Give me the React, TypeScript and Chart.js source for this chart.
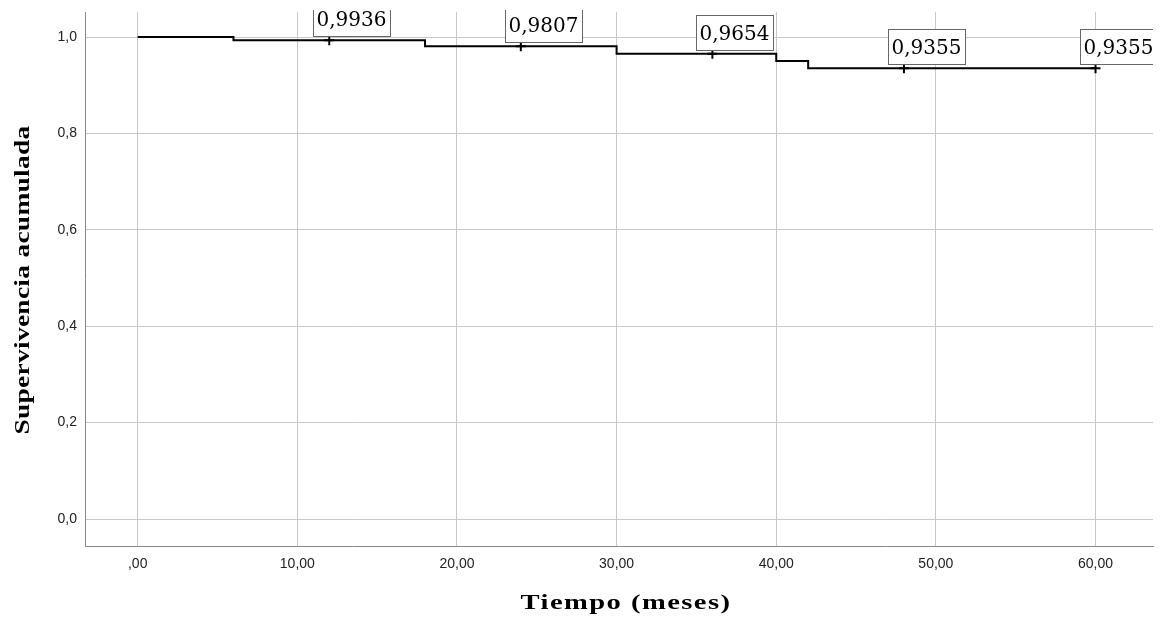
import React, { useEffect, useRef } from "react";
import { Chart, registerables } from "chart.js";

Chart.register(...registerables);

// Kaplan-Meier step curve (time in months, cumulative survival)
const stepTimes = [0, 6, 18, 30, 40, 42, 60];
const stepSurvival = [1.0, 0.9936, 0.9807, 0.9654, 0.9505, 0.9355, 0.9355];

// Annotated/censored points
const markTimes = [12, 24, 36, 48, 60];
const markSurvival = [0.9936, 0.9807, 0.9654, 0.9355, 0.9355];
const markLabels = ["0,9936", "0,9807", "0,9654", "0,9355", "0,9355"];

const xTicks = [0, 10, 20, 30, 40, 50, 60];
const yTicks = [0, 0.2, 0.4, 0.6, 0.8, 1.0];

const xTitle = "Tiempo (meses)";
const yTitle = "Supervivencia acumulada";

const TITLE_FONT = "bold 22px 'Liberation Serif', 'Times New Roman', serif";

function drawStretched(ctx: any, text: string, cx: number, cy: number, sx: number, spacing: number, rotate: boolean) {
  ctx.save();
  ctx.translate(cx, cy);
  if (rotate) ctx.rotate(-Math.PI / 2);
  ctx.scale(sx, 1);
  ctx.font = TITLE_FONT;
  try {
    ctx.letterSpacing = spacing + "px";
  } catch (e) {}
  ctx.fillStyle = "#000000";
  ctx.textAlign = "center";
  ctx.textBaseline = "middle";
  ctx.fillText(text, 0, 0);
  ctx.restore();
}

const labelPlugin = {
  id: "kmLabels",
  afterDatasetsDraw(chart: any) {
    const { ctx, chartArea, scales } = chart;
    ctx.save();
    ctx.beginPath();
    ctx.rect(chartArea.left, chartArea.top - 2, chartArea.right - chartArea.left, chartArea.bottom - chartArea.top + 2);
    ctx.clip();
    ctx.font = "20px 'DejaVu Serif', serif";
    ctx.textBaseline = "middle";
    ctx.textAlign = "left";
    markTimes.forEach((t, i) => {
      const px = scales.x.getPixelForValue(t);
      const py = scales.y.getPixelForValue(markSurvival[i]);
      const w = Math.round(ctx.measureText(markLabels[i]).width + 7);
      const h = 35;
      const left = Math.round(px - 16) + 0.5;
      const bottom = Math.round(py - 4) + 0.5;
      ctx.fillStyle = "#ffffff";
      ctx.fillRect(left, bottom - h, w, h);
      ctx.strokeStyle = "#666666";
      ctx.lineWidth = 1;
      ctx.strokeRect(left, bottom - h, w, h);
      ctx.fillStyle = "#000000";
      ctx.fillText(markLabels[i], left + 3, bottom - h / 2 + 2);
    });
    ctx.restore();
  },
  afterDraw(chart: any) {
    const { ctx, chartArea } = chart;
    const cx = (chartArea.left + chartArea.right) / 2 + 7;
    drawStretched(ctx, xTitle, cx, 603, 1.3, 1.1, false);
    const cy = (chartArea.top + chartArea.bottom) / 2 + 1;
    drawStretched(ctx, yTitle, 23, cy, 1.25, 0.2, true);
  },
};

export default function App() {
  const ref = useRef<HTMLCanvasElement | null>(null);
  useEffect(() => {
    if (!ref.current) return;
    const chart = new Chart(ref.current, {
      type: "line",
      data: {
        datasets: [
          {
            label: "Supervivencia",
            data: stepTimes.map((t, i) => ({ x: t, y: stepSurvival[i] })),
            stepped: true,
            borderColor: "#000000",
            borderWidth: 2,
            pointRadius: 0,
            fill: false,
          },
          {
            label: "Censurado",
            data: markTimes.map((t, i) => ({ x: t, y: markSurvival[i] })),
            showLine: false,
            pointStyle: "cross",
            pointRadius: 5,
            borderColor: "#000000",
            borderWidth: 2,
          },
        ],
      },
      options: {
        animation: false,
        responsive: true,
        maintainAspectRatio: false,
        layout: { padding: { top: 12, right: 9, left: 0, bottom: 0 } },
        plugins: { legend: { display: false }, tooltip: { enabled: false } },
        scales: {
          x: {
            type: "linear",
            min: -3.3,
            max: 63.6,
            afterBuildTicks: (axis: any) => {
              axis.ticks = xTicks.map((v) => ({ value: v }));
            },
            afterFit: (axis: any) => {
              axis.height = 73;
              axis.paddingLeft = 0;
              axis.paddingRight = 0;
            },
            ticks: {
              padding: 10,
              color: "#222222",
              font: { family: "'Liberation Sans', Arial, sans-serif", size: 14 },
              callback: (v: any) => (v === 0 ? ",00" : Number(v).toFixed(2).replace(".", ",")),
            },
            grid: { color: "#c8c8c8", drawTicks: false, lineWidth: 1 },
            border: { display: true, color: "#888888", width: 1 },
            title: { display: false },
          },
          y: {
            type: "linear",
            min: -0.056,
            max: 1.052,
            afterBuildTicks: (axis: any) => {
              axis.ticks = yTicks.map((v) => ({ value: v }));
            },
            afterFit: (axis: any) => {
              axis.width = 85;
              axis.paddingTop = 0;
              axis.paddingBottom = 0;
            },
            ticks: {
              padding: 8,
              color: "#222222",
              font: { family: "'Liberation Sans', Arial, sans-serif", size: 14 },
              callback: (v: any) => Number(v).toFixed(1).replace(".", ","),
            },
            grid: { color: "#c8c8c8", drawTicks: false, lineWidth: 1 },
            border: { display: true, color: "#888888", width: 1 },
            title: { display: false },
          },
        },
      },
      plugins: [labelPlugin],
    } as any);
    return () => chart.destroy();
  }, []);
  return (
    <div style={{ position: "fixed", left: 0, top: 0, width: 1162, height: 619, background: "#ffffff" }}>
      <canvas ref={ref} />
    </div>
  );
}
